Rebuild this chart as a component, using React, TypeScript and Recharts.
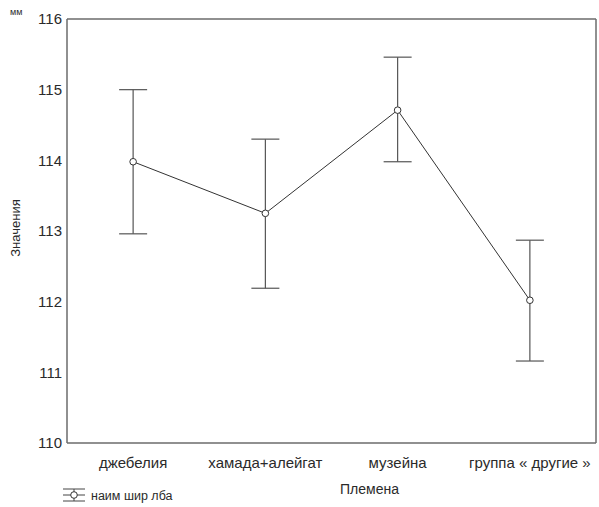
import {
  LineChart,
  Line,
  XAxis,
  YAxis,
  ErrorBar,
  Legend,
  Label,
  ReferenceLine,
  Customized,
} from "recharts";

const categories = ["джебелия", "хамада+алейгат", "музейна", "группа « другие »"];
const means = [113.98, 113.25, 114.71, 112.02];
const upper = [115.0, 114.3, 115.46, 112.87];
const lower = [112.96, 112.19, 113.98, 111.16];
const yTicks = [110, 111, 112, 113, 114, 115, 116];

const FONT = "'Liberation Sans', Arial, sans-serif";
const AXIS = "#6b6b6b";
const TEXT = "#2a2a2a";

const data = categories.map((name, i) => ({
  idx: i,
  name,
  value: means[i],
  err: [means[i] - lower[i], upper[i] - means[i]],
}));

function LegendContent() {
  return (
    <svg width={160} height={16} style={{ display: "block" }}>
      <line x1={3} x2={25} y1={2} y2={2} stroke="#444" />
      <line x1={3} x2={25} y1={14} y2={14} stroke="#444" />
      <line x1={3} x2={25} y1={8} y2={8} stroke="#444" />
      <line x1={14} x2={14} y1={2} y2={14} stroke="#444" />
      <circle cx={14} cy={8} r={3.3} fill="#fff" stroke="#333" />
      <text x={31} y={12.5} fontSize={12.5} fontFamily={FONT} fill={TEXT}>
        наим шир лба
      </text>
    </svg>
  );
}

function UnitLabel() {
  return (
    <text x={10} y={15} fontSize={9} fontFamily={FONT} fill={TEXT}>
      мм
    </text>
  );
}

export default function App() {
  return (
    <div style={{ position: "absolute", left: 0, top: 0, background: "#fff" }}>
      <LineChart
        width={599}
        height={507}
        data={data}
        margin={{ top: 19, right: 3, left: 0, bottom: 0 }}
      >
        <XAxis
          dataKey="idx"
          type="number"
          domain={[-0.5, 3.5]}
          ticks={[0, 1, 2, 3]}
          tickFormatter={(i: number) => categories[i]}
          height={64}
          interval={0}
          tick={{ fontSize: 15, fill: TEXT, fontFamily: FONT }}
          tickLine={false}
          tickSize={6}
          tickMargin={8}
          axisLine={{ stroke: AXIS, strokeWidth: 1.5 }}
        >
          <Label
            value="Племена"
            position="insideBottom"
            offset={13}
            dx={38}
            style={{ fontSize: 14, fill: TEXT, fontFamily: FONT }}
          />
        </XAxis>
        <YAxis
          width={67}
          domain={[110, 116]}
          ticks={yTicks}
          tick={{ fontSize: 15, fill: TEXT, fontFamily: FONT }}
          tickLine={false}
          tickSize={3}
          tickMargin={2}
          axisLine={{ stroke: AXIS, strokeWidth: 1.5 }}
        >
          <Label
            value="Значения"
            angle={-90}
            position="insideLeft"
            offset={15}
            dy={-3}
            style={{ fontSize: 13, fill: TEXT, fontFamily: FONT, textAnchor: "middle" }}
          />
        </YAxis>
        <ReferenceLine y={116} stroke={AXIS} strokeWidth={1.5} />
        <ReferenceLine x={3.5} stroke={AXIS} strokeWidth={1.5} />
        <Legend
          layout="horizontal"
          verticalAlign="middle"
          align="center"
          wrapperStyle={{ top: 487, left: 60, width: 180 }}
          content={() => <LegendContent />}
        />
        <Customized component={UnitLabel} />
        <Line
          dataKey="value"
          type="linear"
          stroke="#333"
          strokeWidth={1}
          dot={{ r: 3.3, fill: "#fff", stroke: "#333", strokeWidth: 1 }}
          activeDot={false}
          isAnimationActive={false}
        >
          <ErrorBar
            dataKey="err"
            direction="y"
            width={14}
            stroke="#555"
            strokeWidth={1.2}
            isAnimationActive={false}
          />
        </Line>
      </LineChart>
    </div>
  );
}
